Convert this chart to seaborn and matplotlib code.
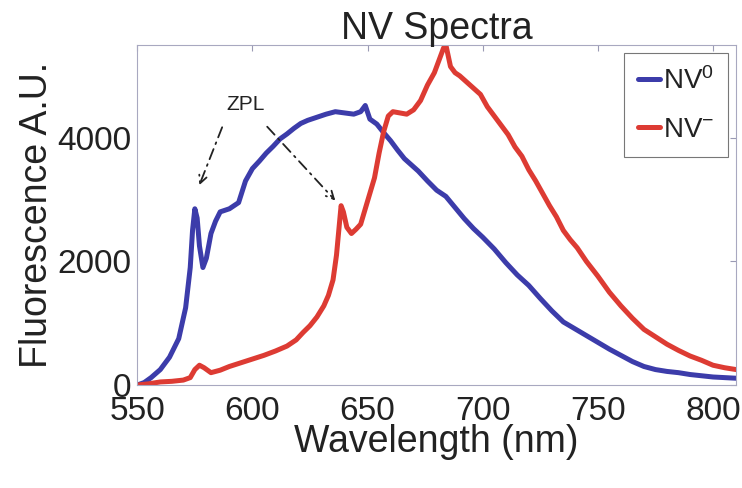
import pandas as pd
import numpy as np
import matplotlib
matplotlib.use("Agg")
import matplotlib.pyplot as plt
import seaborn as sns

#%% data
nv0_wl = [550, 553, 556, 560, 564, 568, 571, 573, 574, 575, 576, 577, 578.5, 580, 582, 584,
          586, 590, 594, 597, 600, 603, 606, 609, 612, 615, 618, 621, 624, 628, 632, 636,
          640, 644, 647, 649, 651, 654, 657, 660, 663, 666, 669, 672, 676, 680, 684, 688,
          692, 696, 700, 705, 710, 715, 720, 725, 730, 735, 740, 745, 750, 755, 760, 765,
          770, 775, 780, 785, 790, 795, 800, 805, 810]
nv0_counts = [0, 40, 120, 250, 450, 750, 1250, 1900, 2500, 2850, 2700, 2250, 1900, 2050, 2450, 2650,
              2800, 2850, 2950, 3300, 3500, 3620, 3750, 3860, 3980, 4060, 4150, 4230, 4280, 4330, 4380, 4420,
              4400, 4380, 4420, 4520, 4300, 4220, 4080, 3950, 3800, 3660, 3560, 3460, 3300, 3150, 3050, 2870,
              2690, 2530, 2390, 2200, 1980, 1780, 1610, 1400, 1200, 1020, 910, 800, 690, 580, 480, 380,
              300, 250, 220, 200, 170, 150, 130, 120, 110]

nvm_wl = [550, 555, 560, 565, 570, 573, 575, 577, 579, 582, 586, 590, 595, 600, 605, 610,
          615, 619, 622, 625, 628, 631, 633, 635, 636.5, 637.5, 638.5, 639.5, 641, 643, 645, 647,
          649, 651, 653, 655, 657, 659, 661, 664, 667, 670, 673, 676, 679, 681, 683, 684,
          686, 688, 690, 693, 696, 699, 702, 705, 708, 711, 714, 717, 720, 723, 726, 729,
          732, 735, 738, 741, 745, 750, 755, 760, 765, 770, 775, 780, 785, 790, 795, 800,
          805, 810]
nvm_counts = [0, 20, 50, 60, 80, 120, 250, 320, 280, 200, 240, 300, 360, 420, 480, 550,
              630, 730, 850, 960, 1100, 1280, 1450, 1700, 2100, 2500, 2900, 2800, 2550, 2450, 2520, 2600,
              2850, 3100, 3350, 3750, 4100, 4350, 4420, 4400, 4380, 4450, 4600, 4850, 5050, 5250, 5450, 5500,
              5150, 5050, 5000, 4900, 4800, 4700, 4500, 4350, 4200, 4050, 3850, 3700, 3480, 3300, 3100, 2900,
              2720, 2500, 2350, 2220, 2000, 1760, 1500, 1280, 1080, 900, 780, 660, 560, 470, 400, 320,
              280, 250]

series_labels = ['NV$^0$', 'NV$^{-}$']
x_ticks = [550, 600, 650, 700, 750, 800]
y_ticks = [0, 2000, 4000]

#%% organize
nv0 = pd.DataFrame({'wl': nv0_wl, 'counts': nv0_counts, 'state': series_labels[0]})
nvm = pd.DataFrame({'wl': nvm_wl, 'counts': nvm_counts, 'state': series_labels[1]})
spectra = pd.concat([nv0, nvm], ignore_index=True)

#%% plot
sns.set_style("white")
plt.rcParams['font.family'] = ['Liberation Sans', 'DejaVu Sans']
plt.rcParams['mathtext.fontset'] = 'custom'
plt.rcParams['mathtext.rm'] = 'Liberation Sans'
plt.rcParams['mathtext.it'] = 'Liberation Sans'

blue = '#3c3caa'
red = '#dd3b33'

fig, ax = plt.subplots(figsize=(7.42, 4.88), dpi=100)
fig.subplots_adjust(left=0.185, right=0.992, bottom=0.211, top=0.908)

sns.lineplot(data=spectra, x='wl', y='counts', hue='state', palette=[blue, red],
             linewidth=3.6, ax=ax, legend=False, estimator=None, sort=False)

ax.set_xlim(550, 810)
ax.set_ylim(0, 5500)
ax.set_xticks(x_ticks)
ax.set_yticks(y_ticks)
ax.tick_params(direction='in', length=4, width=0.8, colors='#9a9ab4', labelcolor='#222222',
               labelsize=24, top=True, right=True)
ax.tick_params(axis='x', pad=8)
ax.tick_params(axis='y', pad=4)
for s in ax.spines.values():
    s.set_color('#a8a8c0')
    s.set_linewidth(0.8)

ax.set_title('NV Spectra', fontsize=27, color='#222222', pad=4)
ax.set_xlabel('Wavelength (nm)', fontsize=27, color='#222222', labelpad=-2)
ax.set_ylabel('Fluorescence A.U.', fontsize=27, color='#222222', labelpad=2)

# ZPL annotation
ax.text(597, 4540, 'ZPL', fontsize=15, ha='center', va='center', color='#222222')
arrow_kw = dict(arrowstyle='->', linestyle=(0, (6, 3, 1, 3)), color='#222222', lw=1.3,
                mutation_scale=14)
ax.annotate('', xy=(576.5, 3190), xytext=(587.3, 4210), arrowprops=arrow_kw)
ax.annotate('', xy=(636.8, 2950), xytext=(605.6, 4210), arrowprops=arrow_kw)

handles = [plt.Line2D([], [], color=blue, lw=3.6), plt.Line2D([], [], color=red, lw=3.6)]
leg = ax.legend(handles, series_labels, loc='upper right', fontsize=20, handlelength=0.8,
                handletextpad=0.1, labelspacing=0.8, borderaxespad=0.3, fancybox=False,
                frameon=True, borderpad=0.5)
leg.get_frame().set_edgecolor('#555555')
leg.get_frame().set_linewidth(0.8)
for t in leg.get_texts():
    t.set_color('#222222')

fig.savefig('out.png', dpi=100)
